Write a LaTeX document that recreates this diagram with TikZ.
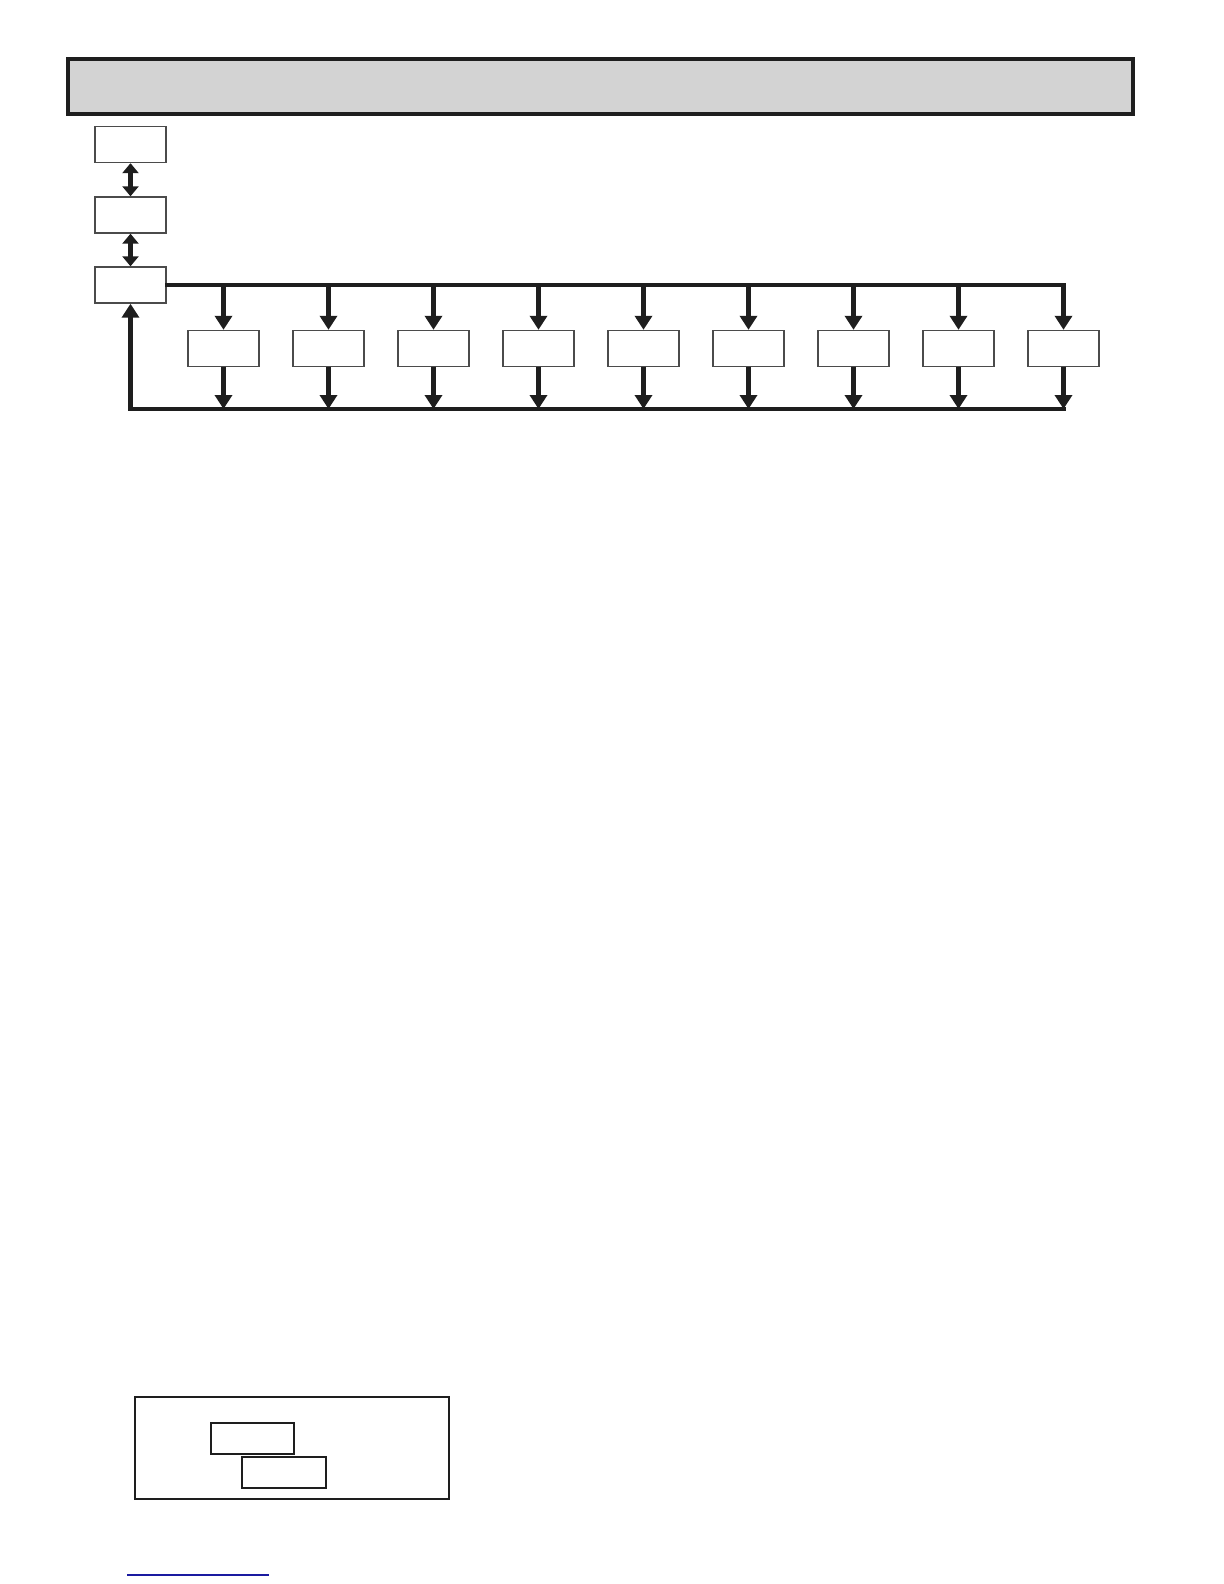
\documentclass[tikz,border=0pt]{standalone}
\usetikzlibrary{arrows.meta}
\definecolor{hdrgray}{HTML}{D3D3D3}
\definecolor{ink}{HTML}{1E1E1E}
\definecolor{linkblue}{HTML}{1A1AA0}
\tikzset{
  box/.style={draw=ink!80, line width=0.7pt, fill=white, minimum width=35.5pt, minimum height=18pt, inner sep=0pt},
  flow/.style={draw=ink, line width=2.2pt, -{Triangle[width=8.5pt,length=7pt]}},
  flowboth/.style={draw=ink, line width=2.4pt, {Triangle[width=8pt,length=5pt]}-{Triangle[width=8pt,length=5pt]}},
  bus/.style={draw=ink, line width=2.2pt, line cap=rect, line join=miter},
  frame/.style={draw=ink, line width=0.9pt},
}
\begin{document}
\begin{tikzpicture}[x=0.5pt,y=-0.5pt]
\useasboundingbox (0,0) rectangle (1224,1584);
% header
\node[draw=ink, line width=1.6pt, fill=hdrgray, minimum width=532.5pt, minimum height=27.5pt, inner sep=0pt] (hdr) at (600.5,86.5) {};
% left column
\node[box] (b1) at (130.5,144.5) {};
\node[box] (b2) at (130.5,215) {};
\node[box] (b3) at (130.5,285) {};
\draw[flowboth] (b1.south) -- (b2.north);
\draw[flowboth] (b2.south) -- (b3.north);
% children
\foreach \i in {1,...,9} {
  \node[box] (c\i) at ({223.5+105*(\i-1)},348.5) {};
  \coordinate (t\i) at ({223.5+105*(\i-1)},285);
  \coordinate (u\i) at ({223.5+105*(\i-1)},409);
}
\coordinate (bl) at (130.5,409);
\draw[bus] (b3.east) -- (t9);
\draw[bus] (bl) -- (u9);
\foreach \i in {1,...,9} {
  \draw[flow] (t\i) -- (c\i.north);
  \draw[flow] (c\i.south) -- (u\i);
}
\draw[flow] (bl) -- (b3.south);
% bottom panel
\node[frame, minimum width=157pt, minimum height=51pt, inner sep=0pt] (panel) at (292,1448) {};
\node[frame, minimum width=41.5pt, minimum height=15.5pt, inner sep=0pt] (p1) at (252.5,1438.5) {};
\node[frame, minimum width=42pt, minimum height=15.5pt, inner sep=0pt] (p2) at (284,1472.5) {};
% blue rule
\coordinate (l1) at (127,1575);
\coordinate (l2) at (269,1575);
\draw[linkblue, line width=0.8pt] (l1) -- (l2);
\end{tikzpicture}
\end{document}
